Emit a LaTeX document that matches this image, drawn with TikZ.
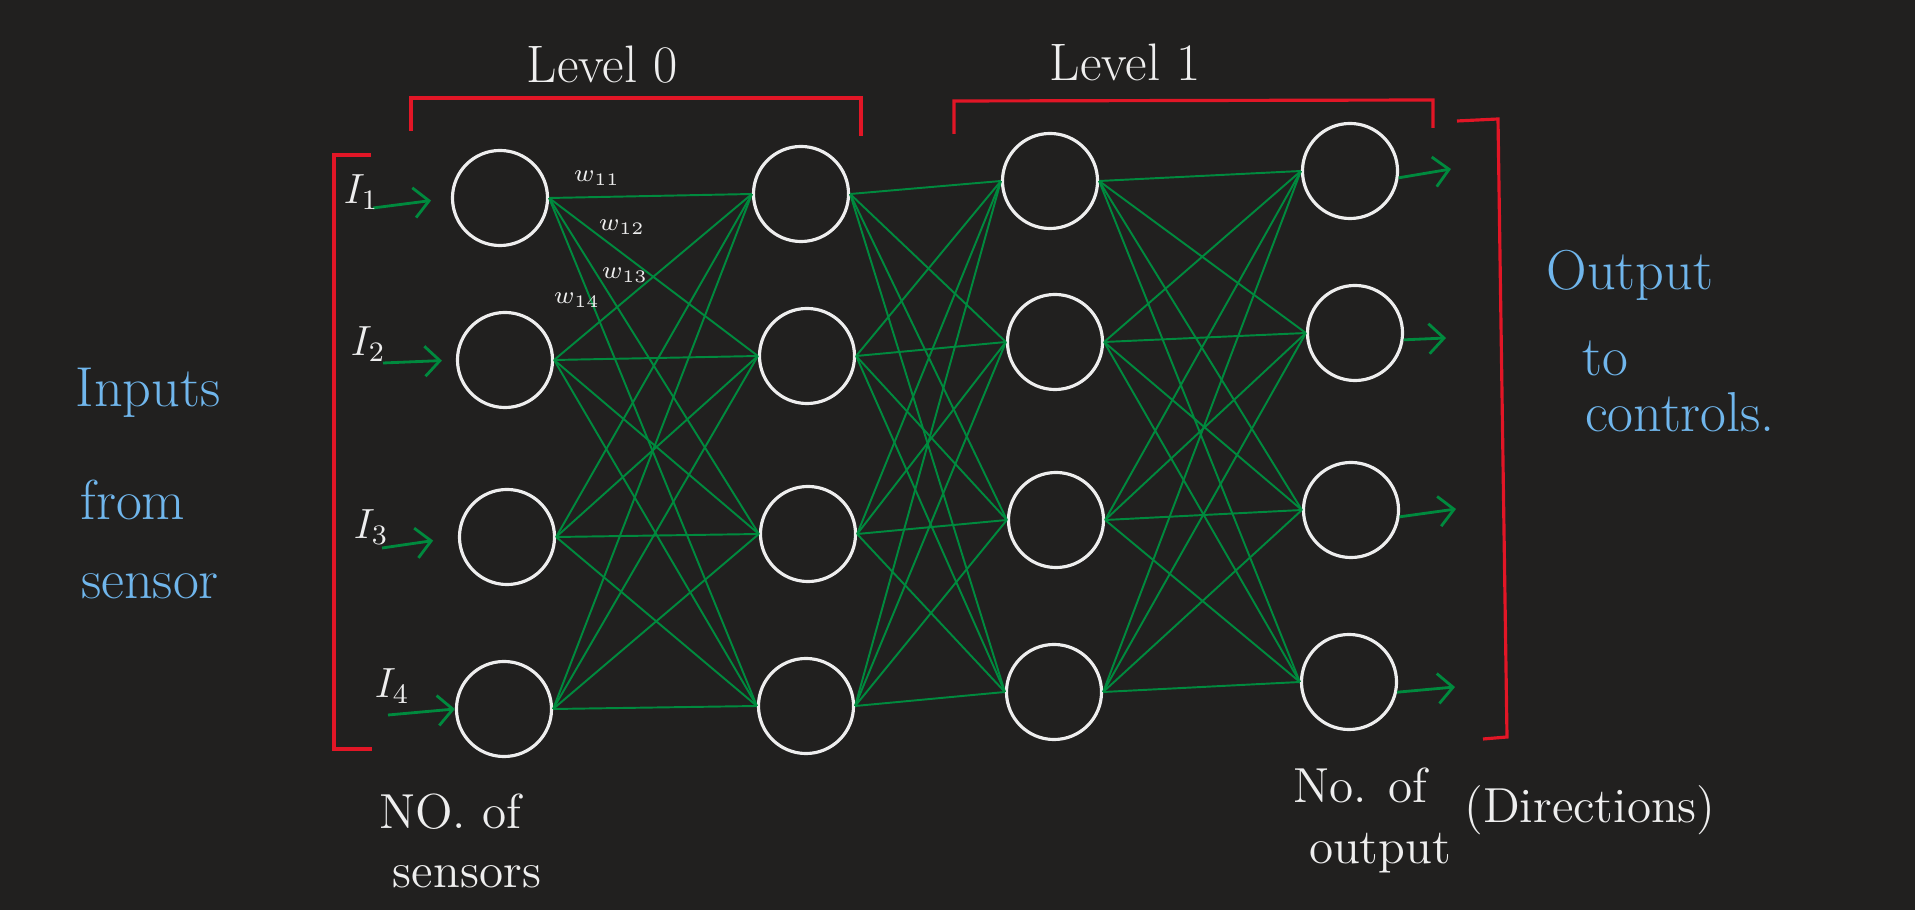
\documentclass[tikz,border=0pt]{standalone}
\usepackage{amsmath}
\usetikzlibrary{arrows.meta}
\definecolor{board}{RGB}{33,32,31}
\definecolor{wire}{RGB}{0,138,62}
\definecolor{mark}{RGB}{226,22,38}
\definecolor{note}{RGB}{112,182,236}
\definecolor{chalk}{RGB}{238,238,238}

\begin{document}
\begin{tikzpicture}[x=0.01cm,y=-0.01cm,
    neuron/.style={circle,draw=chalk,line width=0.9pt,minimum size=0.95cm,inner sep=0pt},
    link/.style={draw=wire,line width=0.55pt},
    feed/.style={draw=wire,line width=0.8pt,-{Straight Barb[length=1.5mm,width=3mm]}},
    brace/.style={draw=mark,line width=0.9pt},
    hand/.style={text=chalk,inner sep=0pt,font=\fontsize{14}{16}\selectfont},
    tag/.style={text=chalk,inner sep=0pt,font=\fontsize{12}{14}\selectfont},
    wtag/.style={text=chalk,inner sep=0pt,font=\fontsize{7}{8}\selectfont},
    notetext/.style={text=note,inner sep=0pt,font=\fontsize{16}{18}\selectfont}]
    \useasboundingbox[fill=board] (0,0) rectangle (1915,910);

    % Neurons
    \node[neuron] (a1) at (500,198) {};
    \node[neuron] (a2) at (505,360) {};
    \node[neuron] (a3) at (507,537) {};
    \node[neuron] (a4) at (504,709) {};
    \node[neuron] (b1) at (801,194) {};
    \node[neuron] (b2) at (807,356) {};
    \node[neuron] (b3) at (808,534) {};
    \node[neuron] (b4) at (806,706) {};
    \node[neuron] (c1) at (1050,181) {};
    \node[neuron] (c2) at (1055,342) {};
    \node[neuron] (c3) at (1056,520) {};
    \node[neuron] (c4) at (1054,692) {};
    \node[neuron] (d1) at (1350,171) {};
    \node[neuron] (d2) at (1355,333) {};
    \node[neuron] (d3) at (1351,510) {};
    \node[neuron] (d4) at (1349,682) {};

    % Weights, every node to every node
    \foreach \i in {1,...,4}
      \foreach \j in {1,...,4} {
        \draw[link] (a\i.east) -- (b\j.west);
        \draw[link] (b\i.east) -- (c\j.west);
        \draw[link] (c\i.east) -- (d\j.west);
      }

    % Inputs
    \coordinate (s1) at (373,208);
    \coordinate (s2) at (383,363);
    \coordinate (s3) at (382,548);
    \coordinate (s4) at (388,715);
    \draw[feed,shorten >=0.2cm] (s1) -- (a1.west);
    \draw[feed,shorten >=0.14cm] (s2) -- (a2.west);
    \draw[feed,shorten >=0.25cm] (s3) -- (a3.west);
    \draw[feed] (s4) -- (a4.west);
    \node[tag] (i1) at (361,192) {$I_1$};
    \node[tag] (i2) at (368,344) {$I_2$};
    \node[tag] (i3) at (371,527) {$I_3$};
    \node[tag] (i4) at (392,686) {$I_4$};

    \node[wtag] (w11) at (597,178) {$w_{11}$};
    \node[wtag] (w12) at (622,227) {$w_{12}$};
    \node[wtag] (w13) at (625,275) {$w_{13}$};
    \node[wtag] (w14) at (577,300) {$w_{14}$};

    % Outputs
    \coordinate (o1) at (1451,169);
    \coordinate (o2) at (1446,338);
    \coordinate (o3) at (1456,509);
    \coordinate (o4) at (1455,687);
    \draw[feed] (d1.-8) -- (o1);
    \draw[feed] (d2.-8) -- (o2);
    \draw[feed] (d3.-8) -- (o3);
    \draw[feed] (d4.-12) -- (o4);

    % Brackets
    \draw[brace] (411,131) -- (411,98) -- (861,98) -- (861,136);
    \draw[brace] (954,134) -- (954,101) -- (1433,100) -- (1433,128);
    \draw[brace] (371,155) -- (334,155) -- (334,749) -- (372,749);
    \draw[brace] (1457,121) -- (1498,119) -- (1507,737) -- (1483,739);

    \node[hand,font=\fontsize{15}{17}\selectfont] (lvl0) at (602,65) {Level 0};
    \node[hand,font=\fontsize{15}{17}\selectfont] (lvl1) at (1125,62) {Level 1};

    \node[notetext] (in1) at (148,393) {Inputs};
    \node[notetext] (in2) at (133,500) {from};
    \node[notetext] (in3) at (150,586) {sensor};
    \node[notetext] (out1) at (1630,275) {Output};
    \node[notetext] (out2) at (1605,358) {to};
    \node[notetext] (out3) at (1680,412) {controls.};

    \node[hand] (ns1) at (450,812) {NO. of};
    \node[hand] (ns2) at (467,877) {sensors};
    \node[hand] (no1) at (1360,785) {No. of};
    \node[hand] (no2) at (1380,853) {output};
    \node[hand] (no3) at (1590,810) {(Directions)};
\end{tikzpicture}
\end{document}
